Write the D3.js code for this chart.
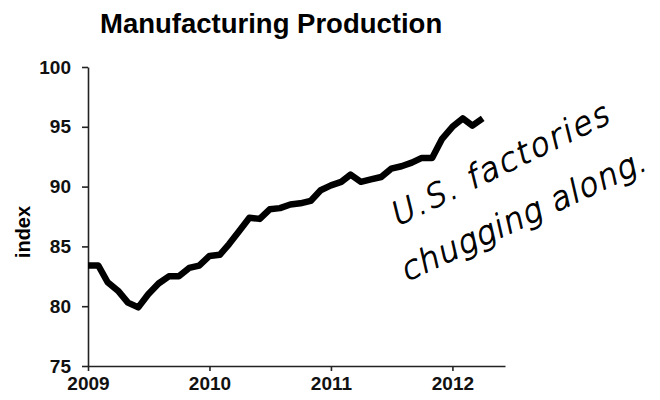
<!DOCTYPE html>
<html>
<head>
<meta charset="utf-8">
<script src="https://cdn.jsdelivr.net/npm/d3@7"></script>
<style>
  body { margin: 0; background: #fff; }
  svg { display: block; }
</style>
</head>
<body>
<div id="chart"></div>
<script>
// monthly index values, Jan 2009 .. Apr 2012
var startYear = 2009, startMonth = 0;
var indexValues = [83.4, 83.4, 82.0, 81.3, 80.3, 79.9, 81.0, 81.9, 82.5, 82.5, 83.2, 83.4,
                   84.2, 84.3, 85.2, 86.3, 87.4, 87.3, 88.1, 88.2, 88.5, 88.6, 88.8, 89.7,
                   90.1, 90.4, 91.0, 90.4, 90.6, 90.8, 91.5, 91.7, 92.0, 92.4, 92.4, 94.0,
                   95.0, 95.7, 95.1, 95.7];
var yTicks = [75, 80, 85, 90, 95, 100];
var xTicks = [2009, 2010, 2011, 2012];
var titleText = "Manufacturing Production";
var yLabel = "index";
var note = ["U.S. factories", "chugging along."];

var data = indexValues.map(function(v, i) {
  return {date: new Date(startYear, startMonth + i, 1), value: v};
});

var width = 660, height = 400;
var margin = {top: 67, right: 155, bottom: 34, left: 88};

var svg = d3.select("#chart")
  .append("svg")
  .attr("width", width)
  .attr("height", height);

var x = d3.scaleTime()
  .domain([new Date(2009, 0, 1), new Date(2012, 5, 7)])
  .range([margin.left, width - margin.right]);

var y = d3.scaleLinear()
  .domain([75, 100])
  .range([height - margin.bottom, margin.top]);

// title
svg.append("text")
  .attr("x", 100)
  .attr("y", 33)
  .style("font-family", "Liberation Sans, Arial, sans-serif")
  .style("font-weight", "bold")
  .style("font-size", "27.5px")
  .text(titleText);

// axes
var yAxis = svg.append("g")
  .attr("transform", "translate(" + margin.left + ",0)")
  .call(d3.axisLeft(y).tickValues(yTicks).tickSize(6).tickSizeOuter(0).tickPadding(11));

var xAxis = svg.append("g")
  .attr("transform", "translate(0," + (height - margin.bottom) + ")")
  .call(d3.axisBottom(x)
    .tickValues(xTicks.map(function(d) { return new Date(d, 0, 1); }))
    .tickFormat(d3.timeFormat("%Y"))
    .tickSize(5).tickSizeOuter(0).tickPadding(6));

[yAxis, xAxis].forEach(function(g) {
  g.selectAll("path, line").attr("stroke", "#222").attr("stroke-width", 1.6);
  g.selectAll("text")
    .attr("fill", "#111")
    .style("font-family", "Liberation Sans, Arial, sans-serif")
    .style("font-weight", "bold")
    .style("font-size", "19px");
});

// y label
svg.append("text")
  .attr("transform", "translate(30,232) rotate(-90)")
  .attr("text-anchor", "middle")
  .style("font-family", "Liberation Sans, Arial, sans-serif")
  .style("font-weight", "bold")
  .style("font-size", "20px")
  .text(yLabel);

// the line
var line = d3.line()
  .x(function(d) { return x(d.date); })
  .y(function(d) { return y(d.value); });

svg.append("path")
  .datum(data)
  .attr("fill", "none")
  .attr("stroke", "#000")
  .attr("stroke-width", 6.5)
  .attr("stroke-linejoin", "round")
  .attr("stroke-linecap", "butt")
  .attr("d", line);

// handwritten note
var noteG = svg.append("g")
  .style("font-family", "DejaVu Sans, sans-serif")
  .style("font-weight", "200")
  .style("font-size", "32px")
  .attr("fill", "#000")
  .attr("stroke", "#000")
  .attr("stroke-width", 1.1)
  .attr("stroke-linejoin", "round");

noteG.append("text")
  .attr("transform", "translate(396,227) rotate(-26) skewX(-12)")
  .attr("letter-spacing", "2px")
  .text(note[0]);

noteG.append("text")
  .attr("transform", "translate(406,282) rotate(-25) skewX(-12)")
  .attr("letter-spacing", "1px")
  .text(note[1]);
</script>
</body>
</html>
